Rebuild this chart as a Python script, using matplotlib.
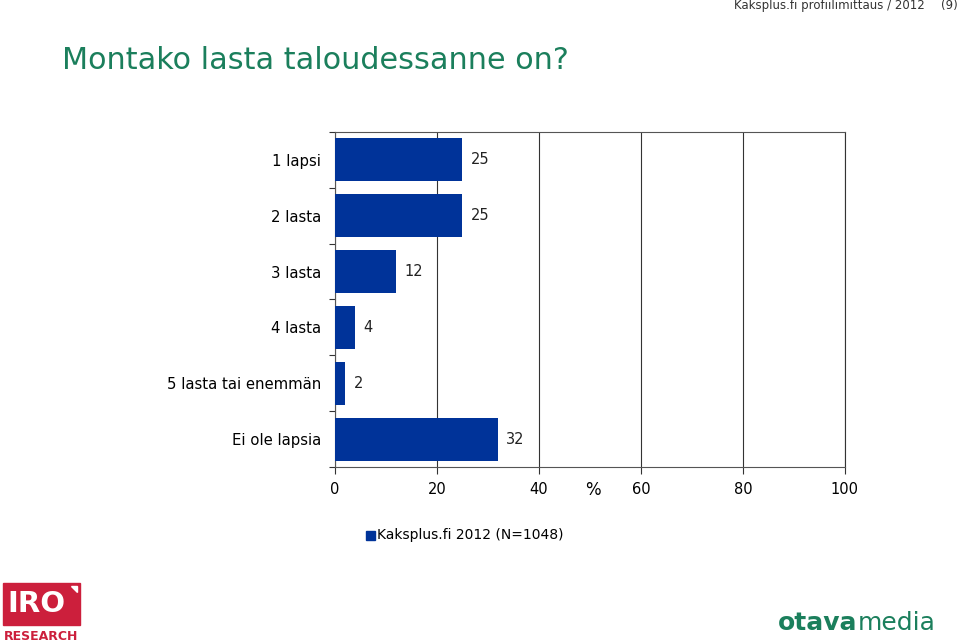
import matplotlib.pyplot as plt
from matplotlib.patches import Rectangle, Polygon

categories = ['1 lapsi', '2 lasta', '3 lasta', '4 lasta', '5 lasta tai enemmän', 'Ei ole lapsia']
values = [25, 25, 12, 4, 2, 32]
xticks = [0, 20, 40, 60, 80, 100]
series_label = 'Kaksplus.fi 2012 (N=1048)'

bar_color = '#003399'
green = '#1b7f5c'
plt.rcParams['font.family'] = ['DejaVu Sans']

fig = plt.figure(figsize=(9.6, 6.42), dpi=100)
ax = fig.add_axes([0.349, 0.2726, 0.531, 0.5218])

y = list(range(len(categories)))
ax.barh(y, values, height=0.77, color=bar_color, zorder=3)
for yi, v in zip(y, values):
    ax.text(v + 1.6, yi, str(v), va='center', ha='left', fontsize=10.5, color='#222222')

ax.set_ylim(len(categories) - 0.5, -0.5)
ax.set_xlim(0, 100)
ax.set_xticks(xticks)
ax.set_xticklabels([str(t) for t in xticks], fontsize=10.5)
ax.set_yticks([i - 0.5 for i in range(len(categories) + 1)], minor=False)
ax.set_yticklabels([])
ax.set_yticks(y, minor=True)
ax.set_yticklabels(categories, minor=True, fontsize=10.7)
ax.tick_params(axis='y', which='minor', length=0, pad=10)
ax.tick_params(axis='y', which='major', length=4, direction='out', color='#333333')
ax.tick_params(axis='x', length=5, direction='out', color='#333333', pad=6)
ax.grid(axis='x', color='#333333', linewidth=0.8, zorder=0)
for s in ['top', 'left', 'bottom']:
    ax.spines[s].set_color('#555555')
    ax.spines[s].set_linewidth(0.8)
ax.spines['right'].set_color('#333333')
ax.spines['right'].set_linewidth(0.8)
ax.text(50.5, -0.07, '%', transform=ax.get_xaxis_transform(), ha='center', va='center', fontsize=12)

# title and header
fig.text(0.065, 0.906, 'Montako lasta taloudessanne on?', fontsize=21.8, color=green, va='center')
fig.text(0.963, 0.992, 'Kaksplus.fi profiilimittaus / 2012', fontsize=8.5, va='center', ha='right', color='#333333')
fig.text(0.998, 0.992, '(9)', fontsize=8.5, va='center', ha='right', color='#333333')

# legend
fig.patches.append(Rectangle((0.381, 0.159), 0.0095, 0.0145, transform=fig.transFigure, color=bar_color))
fig.text(0.393, 0.166, series_label, fontsize=10, va='center')

# IRO logo
fig.patches.append(Rectangle((0.003, 0.026), 0.080, 0.066, transform=fig.transFigure, color='#cc1f3c'))
fig.text(0.038, 0.059, 'IRO', fontsize=21, fontweight='bold', color='white', ha='center', va='center')
fig.patches.append(Polygon([[0.074, 0.087], [0.080, 0.087], [0.080, 0.078]], closed=True,
                           transform=fig.transFigure, color='white'))
fig.text(0.043, 0.008, 'RESEARCH', fontsize=9, fontweight='bold', color='#cc1f3c', ha='center', va='center')

# otavamedia logo
fig.text(0.893, 0.03, 'otava', fontsize=18, fontweight='bold', color=green, va='center', ha='right')
fig.text(0.893, 0.03, 'media', fontsize=18, color=green, va='center', ha='left')

fig.savefig('out.png', dpi=100)
